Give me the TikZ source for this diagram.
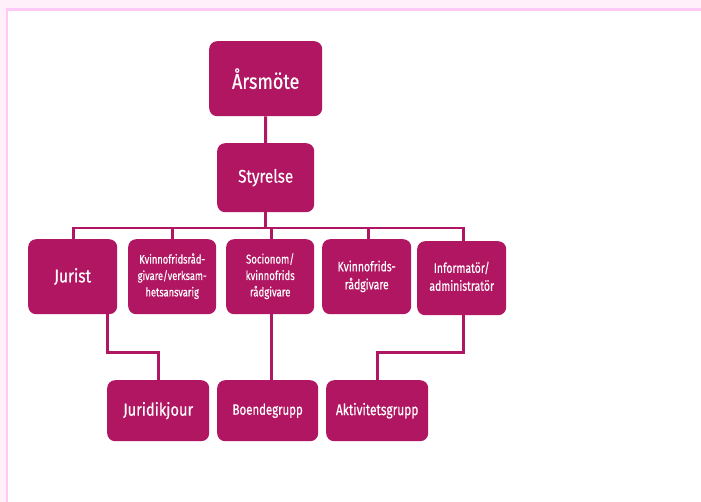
\documentclass[tikz,border=0pt]{standalone}
\usepackage{fontspec}
\setmainfont{Fira Sans}[FakeStretch=0.84, FakeBold=0.4]
\newfontfamily\nar{Fira Sans}[FakeStretch=0.76, FakeBold=0.4]
\definecolor{mag}{RGB}{176,22,98}
\definecolor{palepink}{RGB}{255,240,250}
\definecolor{framepink}{RGB}{255,200,245}
\tikzset{
  box/.style={fill=mag, rounded corners=8pt, text=white, align=center, inner sep=0pt, anchor=north west},
  link/.style={draw=mag, line width=3pt},
}
\begin{document}
\begin{tikzpicture}[x=1bp,y=-1bp]
\useasboundingbox (0,0) rectangle (701,502);
\fill[white] (-5,-5) rectangle (710,510);
\fill[palepink] (-5,-5) rectangle (710,9.5);
\fill[palepink] (-5,-5) rectangle (7,510);
\draw[framepink, line width=2.5pt] (7,510) -- (7,9.5) -- (710,9.5);
% nodes
\node[box, minimum width=113bp, minimum height=75bp, font=\fontsize{21.5}{24}\selectfont] (ars) at (209,41) {Årsmöte};
\node[box, minimum width=97bp, minimum height=69bp, font=\fontsize{18.3}{20}\selectfont] (sty) at (217,143) {Styrelse};
\node[box, minimum width=89bp, minimum height=75bp, font=\fontsize{18.5}{21}\selectfont] (jur) at (28,239) {\raisebox{3pt}{Jurist}};
\node[box, minimum width=88bp, minimum height=75bp, font=\nar\fontsize{12.3}{16.5}\selectfont] (kv1) at (128,239) {\raisebox{2pt}{\begin{tabular}{@{}c@{}}Kvinnofridsråd-\\givare/verksam-\\hetsansvarig\end{tabular}}};
\node[box, minimum width=88bp, minimum height=75bp, font=\nar\fontsize{12.7}{16.5}\selectfont] (soc) at (226,239) {\raisebox{2pt}{\begin{tabular}{@{}c@{}}Socionom/\\kvinnofrids\\rådgivare\end{tabular}}};
\node[box, minimum width=89bp, minimum height=75bp, font=\nar\fontsize{13.8}{18}\selectfont] (kv2) at (322,239) {\raisebox{4pt}{\begin{tabular}{@{}c@{}}Kvinnofrids-\\rådgivare\end{tabular}}};
\node[box, minimum width=89bp, minimum height=74bp, font=\nar\fontsize{13.8}{18}\selectfont] (inf) at (417,241) {\raisebox{4pt}{\begin{tabular}{@{}c@{}}Informatör/\\administratör\end{tabular}}};
\node[box, minimum width=102bp, minimum height=61bp, font=\fontsize{17.5}{20}\selectfont] (jk) at (107,380) {\raisebox{2pt}{Juridikjour}};
\node[box, minimum width=101bp, minimum height=61bp, font=\nar\fontsize{15.1}{19}\selectfont] (boe) at (217,380) {\raisebox{3pt}{Boendegrupp}};
\node[box, minimum width=102bp, minimum height=61bp, font=\nar\fontsize{15.8}{19}\selectfont] (akt) at (326,380) {\raisebox{3pt}{Aktivitetsgrupp}};
% connectors
\coordinate (bus) at (0,228);
\draw[link] (ars.south) -- (sty.north);
\draw[link] (sty.south) -- (sty.south |- bus);
\draw[link] ([xshift=1pt]jur.north) -- ([xshift=1pt]jur.north |- bus) -- ([xshift=1.5pt]inf.north |- bus) -- ([xshift=1.5pt]inf.north);
\draw[link] (kv1.north) -- (kv1.north |- bus);
\draw[link] ([xshift=1.5pt]soc.north) -- ([xshift=1.5pt]soc.north |- bus);
\draw[link] ([xshift=1.5pt]kv2.north) -- ([xshift=1.5pt]kv2.north |- bus);
\draw[link] ([xshift=-10pt]jur.south east) -- ++(0,38) -| (jk.north);
\draw[link] ([xshift=1.5pt]soc.south) -- ([xshift=1.5pt]soc.south |- boe.north);
\draw[link] ([xshift=1.5pt]inf.south) -- ++(0,37) -| (akt.north);
\end{tikzpicture}
\end{document}
